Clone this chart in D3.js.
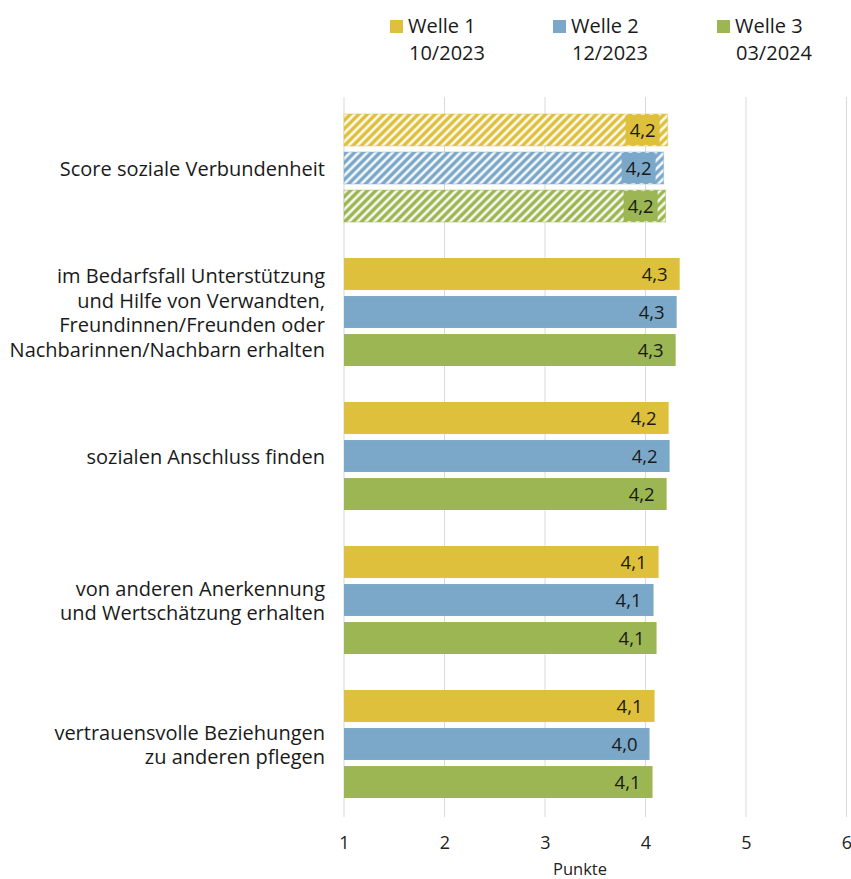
<!DOCTYPE html>
<html>
<head>
<meta charset="utf-8">
<script src="https://cdn.jsdelivr.net/npm/d3@7"></script>
<style>
  body { margin: 0; background: #fff; }
  svg { display: block; font-family: "Open Sans", "Noto Sans", sans-serif; }
</style>
</head>
<body>
<svg id="chart" width="851" height="879"></svg>
<script>
// data
const categories = [
  ["Score soziale Verbundenheit"],
  ["im Bedarfsfall Unterstützung", "und Hilfe von Verwandten,", "Freundinnen/Freunden oder", "Nachbarinnen/Nachbarn erhalten"],
  ["sozialen Anschluss finden"],
  ["von anderen Anerkennung", "und Wertschätzung erhalten"],
  ["vertrauensvolle Beziehungen", "zu anderen pflegen"]
];
const waves = ["Welle 1", "Welle 2", "Welle 3"];
const waveDates = ["10/2023", "12/2023", "03/2024"];
const welle1 = [4.22, 4.34, 4.23, 4.13, 4.09];
const welle2 = [4.18, 4.31, 4.24, 4.08, 4.04];
const welle3 = [4.20, 4.30, 4.21, 4.11, 4.07];
const xTicks = [1, 2, 3, 4, 5, 6];
const hatched = [true, false, false, false, false];

const colors = ["#dfc03c", "#7ba8c9", "#9bb652"];
const series = [welle1, welle2, welle3];

const svg = d3.select("#chart");
const margin = { top: 96, left: 344, right: 5, bottom: 62 };
const W = 851, H = 879;

const x = d3.scaleLinear().domain([1, 6]).range([margin.left, 846.5]);
const y = d3.scaleBand()
  .domain(d3.range(categories.length))
  .range([margin.top, H - margin.bottom - 1])
  .paddingInner(0.25)
  .paddingOuter(0.125);
const yInner = d3.scaleBand()
  .domain(d3.range(waves.length))
  .range([0, y.bandwidth()])
  .paddingInner(0.16);

const fmt = d3.formatLocale({ decimal: ",", thousands: ".", grouping: [3], currency: ["", "€"] }).format(".1f");

// hatch patterns
const defs = svg.append("defs");
colors.forEach((c, i) => {
  const p = defs.append("pattern")
    .attr("id", "hatch" + i)
    .attr("patternUnits", "userSpaceOnUse")
    .attr("width", 6).attr("height", 6)
    .attr("patternTransform", "rotate(45)");
  p.append("rect").attr("width", 6).attr("height", 6).attr("fill", c);
  p.append("line").attr("x1", 1.5).attr("x2", 1.5).attr("y1", 0).attr("y2", 6)
    .attr("stroke", "#fff").attr("stroke-width", 2.4);
});

// gridlines
svg.append("g")
  .selectAll("line")
  .data(xTicks)
  .join("line")
  .attr("x1", d => x(d)).attr("x2", d => x(d))
  .attr("y1", margin.top + 1).attr("y2", H - margin.bottom)
  .attr("stroke", "#d9d9d9").attr("stroke-width", 1);

// x axis labels
const xAxis = svg.append("g")
  .attr("transform", `translate(0, ${H - margin.bottom})`)
  .call(d3.axisBottom(x).tickValues(xTicks).tickSize(0).tickPadding(19).tickFormat(d3.format("d")));
xAxis.select(".domain").remove();
xAxis.selectAll("text").attr("font-size", 18).attr("fill", "#222")
  .attr("font-family", "'Open Sans', sans-serif");

svg.append("text")
  .attr("x", 580).attr("y", 875)
  .attr("text-anchor", "middle")
  .attr("font-size", 16.5).attr("fill", "#222")
  .text("Punkte");

// bars
const rows = [];
categories.forEach((c, ci) => {
  series.forEach((s, si) => rows.push({ ci, si, v: s[ci] }));
});

const bars = svg.append("g");
bars.selectAll("rect")
  .data(rows)
  .join("rect")
  .attr("x", x(1))
  .attr("y", d => y(d.ci) + yInner(d.si))
  .attr("width", d => x(d.v) - x(1))
  .attr("height", yInner.bandwidth())
  .attr("fill", d => hatched[d.ci] ? `url(#hatch${d.si})` : colors[d.si])
  .attr("stroke", d => hatched[d.ci] ? colors[d.si] : "none")
  .attr("stroke-opacity", 0.5)
  .attr("stroke-width", 1);

// value labels with background box
const lab = svg.append("g").selectAll("g")
  .data(rows)
  .join("g");
lab.append("rect")
  .attr("x", d => x(d.v) - 42)
  .attr("y", d => y(d.ci) + yInner(d.si) + 1)
  .attr("width", 34)
  .attr("height", yInner.bandwidth() - 2)
  .attr("fill", d => colors[d.si]);
lab.append("text")
  .attr("x", d => x(d.v) - 12)
  .attr("y", d => y(d.ci) + yInner(d.si) + yInner.bandwidth() / 2)
  .attr("dy", "0.36em")
  .attr("text-anchor", "end")
  .attr("font-size", 18.5)
  .attr("fill", "#1a1a1a")
  .text(d => fmt(d.v));

// category labels
const lineH = 24.4;
svg.append("g").selectAll("text")
  .data(categories)
  .join("text")
  .attr("text-anchor", "end")
  .attr("font-size", 20)
  .attr("fill", "#1a1a1a")
  .each(function(lines, i) {
    const cy = y(i) + y.bandwidth() / 2 + 1;
    const t = d3.select(this);
    lines.forEach((l, k) => {
      t.append("tspan")
        .attr("x", 325)
        .attr("y", cy + (k - (lines.length - 1) / 2) * lineH)
        .attr("dy", "0.35em")
        .text(l);
    });
  });

// legend
const legendX = [390, 553, 717];
const leg = svg.append("g").selectAll("g")
  .data(waves)
  .join("g")
  .attr("transform", (d, i) => `translate(${legendX[i]}, 0)`);
leg.append("rect")
  .attr("x", 0).attr("y", 20)
  .attr("width", 13).attr("height", 13)
  .attr("fill", (d, i) => colors[i]);
leg.append("text")
  .attr("x", 18).attr("y", 33)
  .attr("font-size", 20).attr("fill", "#1a1a1a")
  .text(d => d);
leg.append("text")
  .attr("x", 19).attr("y", 60)
  .attr("font-size", 20).attr("fill", "#1a1a1a")
  .text((d, i) => waveDates[i]);
</script>
</body>
</html>
